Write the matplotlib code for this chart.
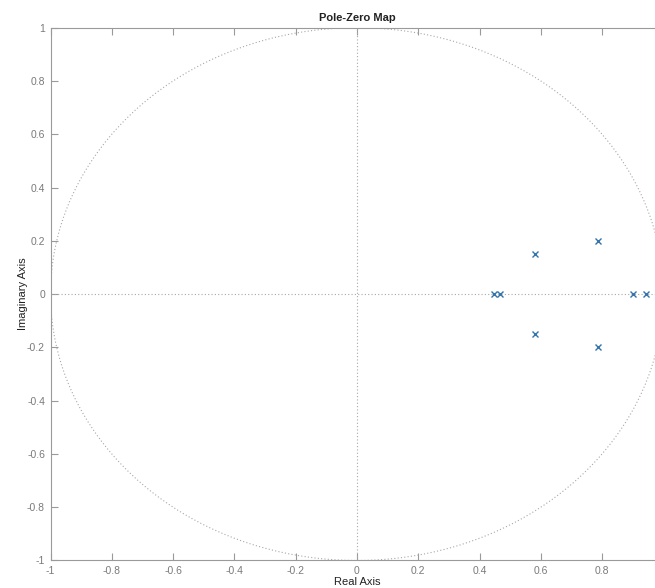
import numpy as np
import matplotlib
matplotlib.use("Agg")
import matplotlib.pyplot as plt

# Pole locations
pole_real = [0.446, 0.468, 0.582, 0.582, 0.787, 0.787, 0.900, 0.943]
pole_imag = [0.0, 0.0, 0.150, -0.150, 0.200, -0.200, 0.0, 0.0]

x_ticks = [-1, -0.8, -0.6, -0.4, -0.2, 0, 0.2, 0.4, 0.6, 0.8]
x_tick_labels = ["-1", "-0.8", "-0.6", "-0.4", "-0.2", "0", "0.2", "0.4", "0.6", "0.8"]
y_ticks = [-1, -0.8, -0.6, -0.4, -0.2, 0, 0.2, 0.4, 0.6, 0.8, 1]
y_tick_labels = ["-1", "-0.8", "-0.6", "-0.4", "-0.2", "0", "0.2", "0.4", "0.6", "0.8", "1"]

plt.rcParams['font.family'] = ['Liberation Sans', 'DejaVu Sans']

fig = plt.figure(figsize=(6.55, 5.88), dpi=100)
ax = fig.add_axes([0.0771, 0.0468, 0.9357, 0.9061])

spine_col = '#9a9a9a'
text_col = '#7a7a7a'

# unit circle
theta = np.linspace(0, 2 * np.pi, 400)
ax.plot(np.cos(theta), np.sin(theta), linestyle=(0, (1, 2)), color='#a8a8a8', linewidth=0.8)
# axis lines
ax.axhline(0, linestyle=(0, (1, 2)), color='#a8a8a8', linewidth=0.8)
ax.axvline(0, linestyle=(0, (1, 2)), color='#a8a8a8', linewidth=0.8)

ax.plot(pole_real, pole_imag, linestyle='none', marker='x', markersize=5,
        markeredgewidth=1.0, color='#3474ad')

ax.set_xlim(-1, 1)
ax.set_ylim(-1, 1)
ax.set_xticks(x_ticks)
ax.set_xticklabels(x_tick_labels)
ax.set_yticks(y_ticks)
ax.set_yticklabels(y_tick_labels)

ax.tick_params(direction='in', length=5, width=0.8, colors=spine_col,
               labelcolor=text_col, labelsize=7.5, top=True, right=True, pad=4)
for s in ax.spines.values():
    s.set_color(spine_col)
    s.set_linewidth(0.8)

ax.set_title('Pole-Zero Map', fontsize=8, fontweight='bold', color='#222222', pad=5)
ax.set_xlabel('Real Axis', fontsize=8, color='#222222', labelpad=1)
ax.set_ylabel('Imaginary Axis', fontsize=8, color='#222222', labelpad=-1)

fig.savefig('out.png', dpi=100)
